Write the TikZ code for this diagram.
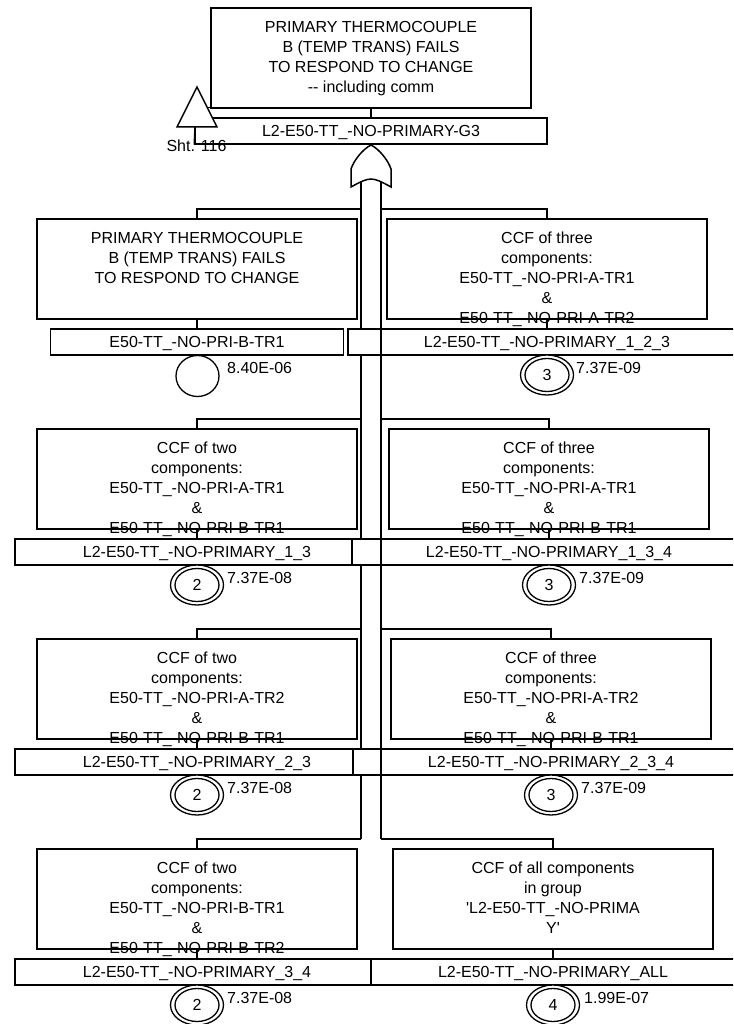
\documentclass[tikz,border=0pt]{standalone}
\usepackage{fontspec}
\setmainfont{Liberation Sans}[Ligatures=TeXOff]
\usetikzlibrary{calc,shapes.geometric}
\newcommand{\dfont}{\fontsize{16pt}{20pt}\selectfont}
\tikzset{
  evbox/.style={draw=black,line width=1.5pt,fill=white,rectangle,inner sep=0pt,minimum width=320pt,minimum height=100pt},
  namebox/.style={draw=black,line width=1.5pt,fill=white,rectangle,inner sep=0pt,minimum height=26pt,text height=11.6pt,text depth=0pt,font=\dfont},
  evtext/.style={inner sep=0pt,align=center,anchor=north,font=\dfont},
  conn/.style={draw=black,line width=1.5pt},
  basic/.style={draw=black,line width=1.3pt,fill=white,ellipse,inner sep=0pt,minimum width=43pt,minimum height=41pt},
  ccfout/.style={draw=black,line width=1.3pt,fill=white,ellipse,inner sep=0pt,minimum width=53pt,minimum height=40pt},
  ccfin/.style={draw=black,line width=1.3pt,fill=white,ellipse,inner sep=0pt,minimum width=44pt,minimum height=33pt,font=\dfont},
  prob/.style={inner sep=0pt,anchor=west,font=\dfont},
}
\newcommand{\evrow}[7]{%
 \node[evbox] (b#1) at (#2,-#3-50) {};
 \node[evtext] (t#1) at (#2,-#3-13) {#4};
 \node[namebox,minimum width=#5pt] (n#1) at (#7,-#3-123) {#6};
 \draw[conn] (b#1.south) -- (n#1.north -| b#1.south);
}
\newcommand{\ccfsym}[4]{%
 \node[ccfout] (o#1) at (#2,#3) {};
 \node[ccfin] (i#1) at (o#1.center) {#4};
}
\begin{document}
\begin{tikzpicture}[x=1pt,y=1pt]
\path[use as bounding box,clip] (0,0) rectangle (733,-1024);
\fill[white] (0,0) rectangle (733,-1024);
\coordinate (gl) at (361,-181);
\coordinate (gr) at (381,-181);
\coordinate (hl) at (361,-839);
\coordinate (hr) at (381,-839);
\draw[conn] (gl) -- (hl);
\coordinate (l1) at (361,-209); \coordinate (r1) at (381,-209);
\coordinate (l2) at (361,-419); \coordinate (r2) at (381,-419);
\coordinate (l3) at (361,-629); \coordinate (r3) at (381,-629);
\coordinate (l4) at (361,-839); \coordinate (r4) at (381,-839);
\evrow{a}{197}{219}{PRIMARY THERMOCOUPLE\\B (TEMP TRANS) FAILS\\TO RESPOND TO CHANGE}{293}{E50-TT\_-NO-PRI-B-TR1}{197}
\evrow{c}{197}{429}{CCF of two\\components:\\E50-TT\_-NO-PRI-A-TR1\\\&\\E50-TT\_-NO-PRI-B-TR1}{364}{L2-E50-TT\_-NO-PRIMARY\_1\_3}{197}
\evrow{e}{197}{639}{CCF of two\\components:\\E50-TT\_-NO-PRI-A-TR2\\\&\\E50-TT\_-NO-PRI-B-TR1}{364}{L2-E50-TT\_-NO-PRIMARY\_2\_3}{197}
\evrow{g}{197}{849}{CCF of two\\components:\\E50-TT\_-NO-PRI-B-TR1\\\&\\E50-TT\_-NO-PRI-B-TR2}{364}{L2-E50-TT\_-NO-PRIMARY\_3\_4}{197}
\evrow{b}{547}{219}{CCF of three\\components:\\E50-TT\_-NO-PRI-A-TR1\\\&\\E50-TT\_-NO-PRI-A-TR2}{398}{L2-E50-TT\_-NO-PRIMARY\_1\_2\_3}{547}
\evrow{d}{549}{429}{CCF of three\\components:\\E50-TT\_-NO-PRI-A-TR1\\\&\\E50-TT\_-NO-PRI-B-TR1}{394}{L2-E50-TT\_-NO-PRIMARY\_1\_3\_4}{549}
\evrow{f}{551}{639}{CCF of three\\components:\\E50-TT\_-NO-PRI-A-TR2\\\&\\E50-TT\_-NO-PRI-B-TR1}{396}{L2-E50-TT\_-NO-PRIMARY\_2\_3\_4}{551}
\evrow{h}{553}{849}{CCF of all components\\in group\\'L2-E50-TT\_-NO-PRIMA\\Y'}{364}{L2-E50-TT\_-NO-PRIMARY\_ALL}{553}
\draw[conn] (l1) -| (ba.north);
\draw[conn] (l2) -| (bc.north);
\draw[conn] (l3) -| (be.north);
\draw[conn] (l4) -| (bg.north);
\draw[conn] (r1) -| (bb.north);
\draw[conn] (r2) -| (bd.north);
\draw[conn] (r3) -| (bf.north);
\draw[conn] (r4) -| (bh.north);
\draw[conn] (gr) -- (hr);
\node[evbox] (top) at (371,-58) {};
\node[evtext] (toptext) at (371,-21) {PRIMARY THERMOCOUPLE\\B (TEMP TRANS) FAILS\\TO RESPOND TO CHANGE\\-- including comm};
\node[namebox,minimum width=352pt] (topname) at (371,-131) {L2-E50-TT\_-NO-PRIMARY-G3};
\draw[conn] (top.south) -- (topname.north -| top.south);
\coordinate (gapex) at (371,-145);
\draw[conn,fill=white] (gapex) .. controls (363,-149) and (354,-160) .. (351,-169) -- (351,-187)
  .. controls (360,-182) and (366,-179) .. (371,-179)
  .. controls (376,-179) and (382,-182) .. (391,-187) -- (391,-169)
  .. controls (388,-160) and (379,-149) .. (gapex) -- cycle;
\coordinate (tr1) at (197,-87);
\coordinate (tr2) at (177,-127);
\coordinate (tr3) at (217,-127);
\coordinate (tickA) at (208,-107.5);
\coordinate (tickB) at (217,-107.5);
\draw[conn,fill=white,line join=miter] (tr1) -- (tr2) -- (tr3) -- cycle;
\draw[conn] (tickA) -- (tickB);
\draw[conn] (195,-127) -- (topname.south west);
\node[inner sep=0pt,anchor=center,font=\dfont] (sht) at (196.5,-146) {Sht. 116};
\node[basic] (ca) at (197.5,-376) {};
\node[prob] (pa) at (227,-368) {8.40E-06};
\ccfsym{b}{547}{-375}{3}
\node[prob] (pb) at (576,-368) {7.37E-09};
\ccfsym{c}{197}{-585}{2}
\node[prob] (pc) at (227,-578) {7.37E-08};
\ccfsym{d}{549}{-585}{3}
\node[prob] (pd) at (579,-578) {7.37E-09};
\ccfsym{e}{197}{-795}{2}
\node[prob] (pe) at (227,-788) {7.37E-08};
\ccfsym{f}{551}{-795}{3}
\node[prob] (pf) at (581,-788) {7.37E-09};
\ccfsym{g}{197}{-1005}{2}
\node[prob] (pg) at (227,-998) {7.37E-08};
\ccfsym{h}{553}{-1005}{4}
\node[prob] (ph) at (584,-998) {1.99E-07};
\end{tikzpicture}
\end{document}
